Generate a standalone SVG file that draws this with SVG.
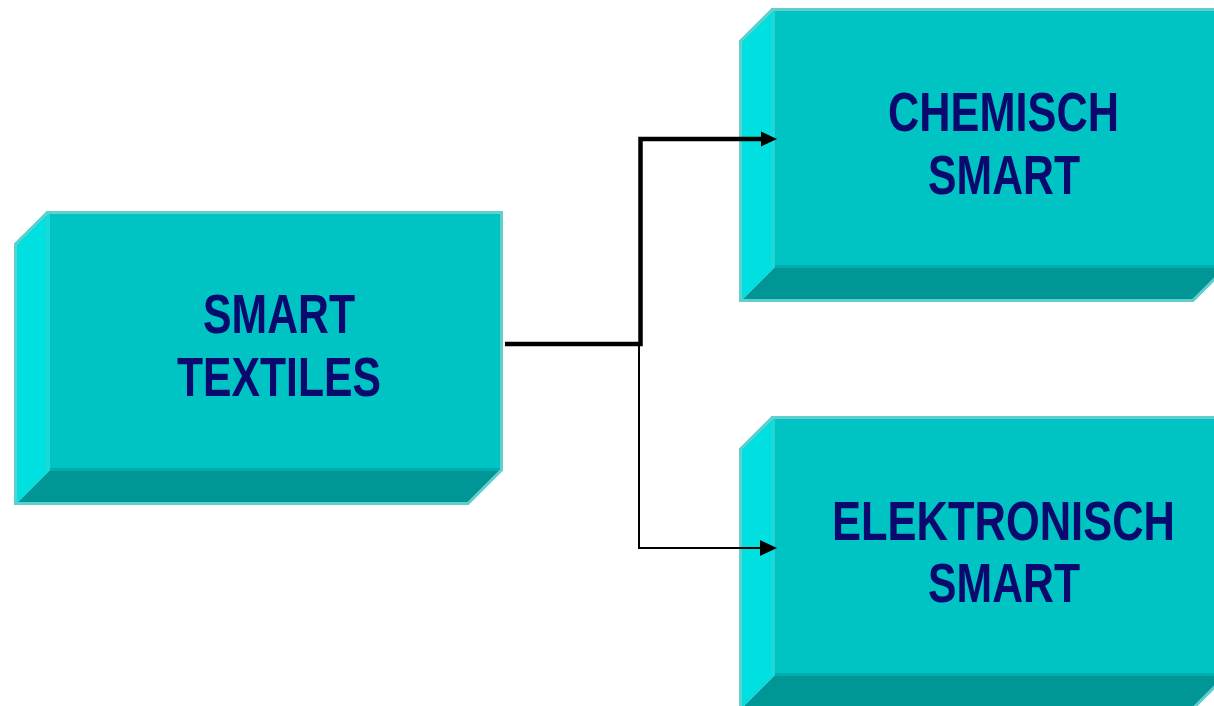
<svg xmlns="http://www.w3.org/2000/svg" width="1214" height="706" viewBox="0 0 1214 706">
<style>
.front{fill:#00C4C4}
.left{fill:#00E0E0}
.bottom{fill:#009696}
.seamL{fill:#1ED8D8}
.seamB{fill:#00ADAD}
.rim{fill:none;stroke:#62CFCF;stroke-width:3}
.lbl{font-family:"Liberation Sans",Arial,sans-serif;font-weight:bold;font-size:55px;fill:#0A0A6E;text-anchor:middle}
.thick{fill:none;stroke:#000;stroke-width:4.5}
.thin{fill:none;stroke:#000;stroke-width:2}
</style>
<defs>
<g id="box">
<rect class="front" x="50" y="211" width="453" height="259"/>
<polygon class="left" points="14,244 47,211 50,211 50,470 17,503 14,503"/>
<rect class="seamL" x="46" y="211" width="4" height="259"/>
<polygon class="bottom" points="50,470 503,470 470,503 17,503"/>
<polygon class="seamB" points="50,468 503,468 503,471 50,471"/>
<polygon class="rim" points="15.5,244 47.5,212.5 501.5,212.5 501.5,470 468,503.5 15.5,503.5"/>
</g>
<marker id="ah1" markerUnits="userSpaceOnUse" markerWidth="16" markerHeight="16" refX="4" refY="8" orient="auto">
<path d="M0,0.5 L16,8 L0,15.5 z" fill="#000"/>
</marker>
<marker id="ah2" markerUnits="userSpaceOnUse" markerWidth="17" markerHeight="17" refX="4" refY="8.5" orient="auto">
<path d="M0,0.5 L17,8.5 L0,16.5 z" fill="#000"/>
</marker>
</defs>
<g id="node-smart-textiles">
<use href="#box"/>
<text class="lbl" x="279" y="333" textLength="152" lengthAdjust="spacingAndGlyphs">SMART</text>
<text class="lbl" x="279" y="396" textLength="204" lengthAdjust="spacingAndGlyphs">TEXTILES</text>
</g>
<g id="node-chemisch-smart">
<use href="#box" transform="translate(725,-203)"/>
<text class="lbl" x="1003.5" y="131" textLength="231" lengthAdjust="spacingAndGlyphs">CHEMISCH</text>
<text class="lbl" x="1004" y="194" textLength="152" lengthAdjust="spacingAndGlyphs">SMART</text>
</g>
<g id="node-elektronisch-smart">
<use href="#box" transform="translate(725,205)"/>
<text class="lbl" x="1003.5" y="540" textLength="343" lengthAdjust="spacingAndGlyphs">ELEKTRONISCH</text>
<text class="lbl" x="1004" y="602" textLength="152" lengthAdjust="spacingAndGlyphs">SMART</text>
</g>
<g id="connectors">
<polyline class="thick" points="505,344 640.5,344 640.5,139 765,139" marker-end="url(#ah1)"/>
<polyline class="thin" points="639,344 639,548 764,548" marker-end="url(#ah2)"/>
</g>
</svg>
